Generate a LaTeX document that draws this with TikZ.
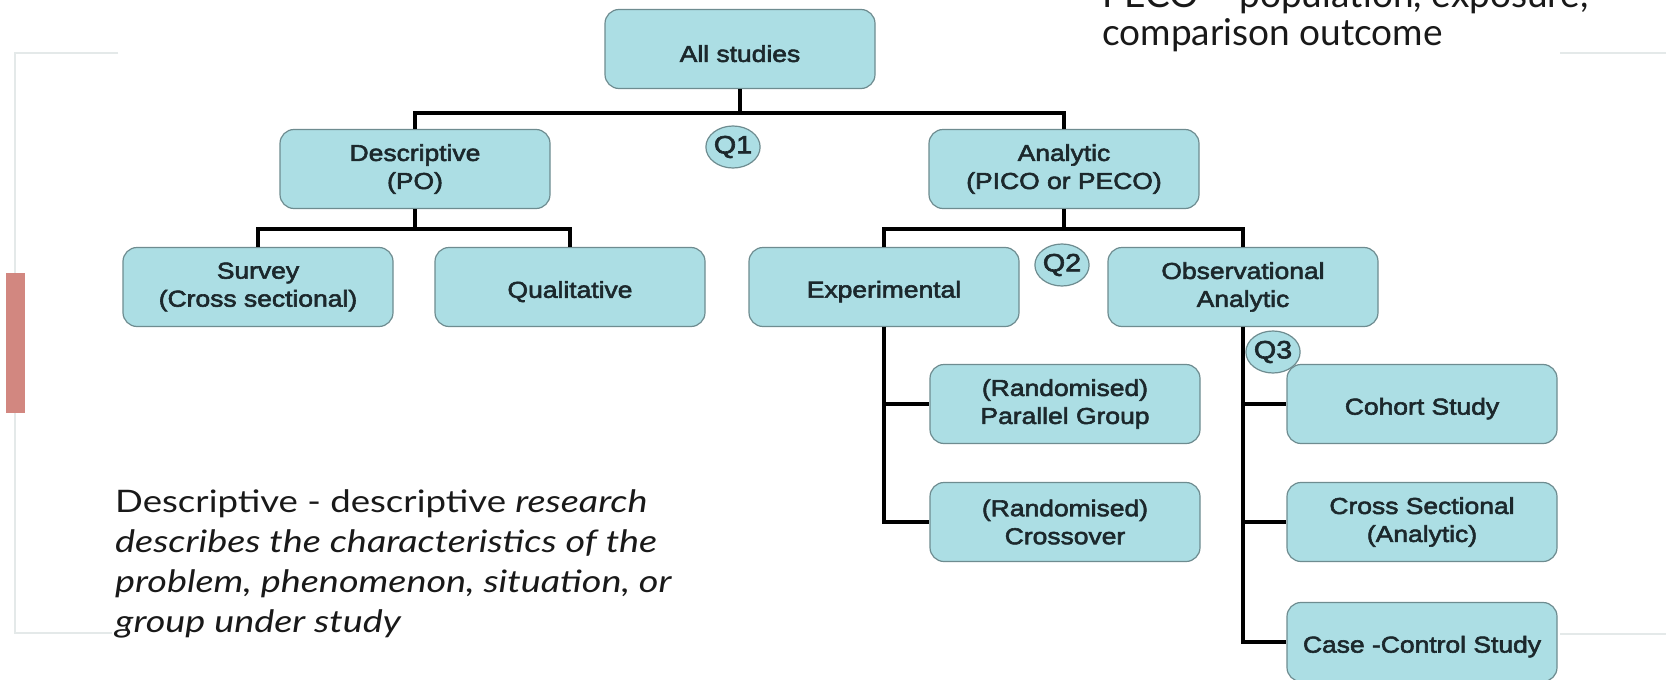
\documentclass[tikz,border=0pt]{standalone}
\usepackage{fontspec}
\setmainfont{Lato}
\newfontfamily\boxfont[FakeStretch=1.15,FakeBold=2.5]{Liberation Sans}
\newfontfamily\notefont[FakeStretch=1.18,ItalicFeatures={FakeStretch=1.22}]{Lato}
\usetikzlibrary{shapes.geometric}
\definecolor{boxfill}{RGB}{172,222,228}
\definecolor{boxline}{RGB}{110,140,144}
\definecolor{boxtext}{RGB}{28,40,44}
\definecolor{redbar}{RGB}{210,135,128}
\definecolor{framecol}{RGB}{228,233,233}
\definecolor{notetext}{RGB}{25,25,25}
\begin{document}
\begin{tikzpicture}[x=1pt,y=-1pt,
  box/.style={draw=boxline, line width=1.2pt, fill=boxfill, rounded corners=14pt,
    minimum width=270pt, minimum height=79pt, inner sep=0pt, align=center,
    text=boxtext, font=\boxfont\fontsize{23}{28}\selectfont,
    execute at begin node={\rule{0pt}{26pt}}},
  qlab/.style={ellipse, draw=boxline, line width=1.2pt, fill=boxfill,
    minimum width=48pt, minimum height=42pt, inner sep=0pt,
    text=boxtext, font=\boxfont\fontsize{25}{25}\selectfont},
  conn/.style={line width=4pt, black},
  frameline/.style={line width=2pt, framecol},
  note/.style={anchor=base west, inner sep=0pt, text=notetext, align=left}]
\useasboundingbox (0,0) rectangle (1666,680);
\fill[white] (0,0) rectangle (1666,680);
% slide frame and accent bar
\draw[frameline] (118,53) -- (15,53) -- (15,633) -- (112,633);
\draw[frameline] (1560,53) -- (1666,53);
\draw[frameline] (1560,634) -- (1666,634);
\fill[redbar] (6,273) rectangle (25,413);
% boxes
\node[box] (all) at (740,49) {All studies};
\node[box] (desc) at (415,169) {Descriptive\\(PO)};
\node[box] (ana) at (1064,169) {Analytic\\(PICO or PECO)};
\node[box] (surv) at (258,287) {Survey\\(Cross sectional)};
\node[box] (qual) at (570,287) {Qualitative};
\node[box] (exp) at (884,287) {Experimental};
\node[box] (obs) at (1243,287) {Observational\\Analytic};
\node[box] (par) at (1065,404) {(Randomised)\\Parallel Group};
\node[box] (cro) at (1065,522) {(Randomised)\\Crossover};
\node[box] (coh) at (1422,404) {Cohort Study};
\node[box] (cs) at (1422,522) {Cross Sectional\\(Analytic)};
\node[box] (cc) at (1422,642) {Case -Control Study};
% junctions
\coordinate (j1) at (740,113);
\coordinate (j2) at (415,229);
\coordinate (j3) at (1064,229);
% connectors
\draw[conn] (all.south) -- (j1);
\draw[conn] (desc.north) |- (j1) -| (ana.north);
\draw[conn] (desc.south) -- (j2);
\draw[conn] (surv.north) |- (j2) -| (qual.north);
\draw[conn] (ana.south) -- (j3);
\draw[conn] (exp.north) |- (j3) -| (obs.north);
\draw[conn] (exp.south) |- (cro.west);
\draw[conn] (exp.south |- par.west) -- (par.west);
\draw[conn] (obs.south) |- (cc.west);
\draw[conn] (obs.south |- coh.west) -- (coh.west);
\draw[conn] (obs.south |- cs.west) -- (cs.west);
% question labels
\node[qlab] (q1) at (733,147) {Q1};
\node[qlab] (q2) at (1062,265) {Q2};
\node[qlab] (q3) at (1273,352) {Q3};
% slide texts
\node[note, font=\fontsize{37}{37}\selectfont] (pecoA) at (1102,8) {PECO – population, exposure,};
\node[note, font=\fontsize{37}{37}\selectfont] (pecoB) at (1102,45) {comparison outcome};
\node[note, font=\notefont\fontsize{31}{40}\selectfont] (desctext) at (115,632)
  {Descriptive - descriptive \textit{research}\\
   \textit{describes the characteristics of the}\\
   \textit{problem, phenomenon, situation, or}\\
   \textit{group under study}};
\end{tikzpicture}
\end{document}
